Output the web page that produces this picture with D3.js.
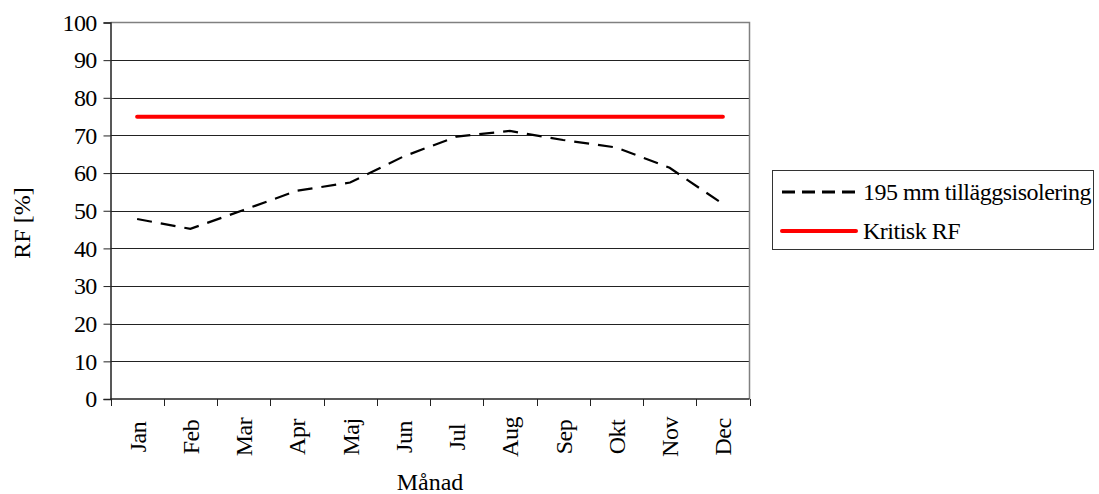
<!DOCTYPE html>
<html>
<head>
<meta charset="utf-8">
<script src="https://cdn.jsdelivr.net/npm/d3@7/dist/d3.min.js"></script>
<style>
  html, body { margin: 0; padding: 0; background: #fff; }
  svg text { font-family: "Liberation Serif", "Times New Roman", serif; fill: #000; }
</style>
</head>
<body>
<svg id="chart" width="1099" height="494"></svg>
<script>
// Monthly relative humidity (%) with 195 mm additional insulation
const months = ["Jan", "Feb", "Mar", "Apr", "Maj", "Jun", "Jul", "Aug", "Sep", "Okt", "Nov", "Dec"];
const rfValues = [47.8, 45.2, 50.2, 55.3, 57.5, 64.4, 69.7, 71.2, 68.8, 66.8, 61.4, 51.8];
const criticalValues = [75, 75, 75, 75, 75, 75, 75, 75, 75, 75, 75, 75];
const yTicks = [0, 10, 20, 30, 40, 50, 60, 70, 80, 90, 100];
const seriesNames = ["195 mm tilläggsisolering", "Kritisk RF"];

const svg = d3.select("#chart");
const plotLeft = 110.5, plotRight = 749.5, plotTop = 22.5, plotBottom = 399;
const fontSize = 24;

const x = d3.scaleBand().domain(months).range([plotLeft, plotRight]);
const y = d3.scaleLinear().domain([0, 100]).range([plotBottom, plotTop]);

// horizontal gridlines
svg.append("g").selectAll("line")
  .data(yTicks.filter(v => v > 0 && v < 100))
  .join("line")
  .attr("x1", plotLeft).attr("x2", plotRight)
  .attr("y1", d => Math.round(y(d)) + 0.5).attr("y2", d => Math.round(y(d)) + 0.5)
  .attr("stroke", "#222").attr("stroke-width", 1);

// plot frame (top and right)
svg.append("path")
  .attr("d", `M${plotLeft},${plotTop}H${plotRight}V${plotBottom}`)
  .attr("fill", "none").attr("stroke", "#808080").attr("stroke-width", 1.5);

// y axis
const yAxis = svg.append("g")
  .attr("transform", `translate(${plotLeft},0)`)
  .call(d3.axisLeft(y).tickValues(yTicks).tickSize(7).tickPadding(7));
yAxis.select(".domain").attr("stroke", "#222").attr("stroke-width", 1.5);
yAxis.selectAll(".tick line").attr("stroke", "#222");
yAxis.selectAll("text")
  .attr("font-size", fontSize)
  .attr("font-family", "Liberation Serif")
  .attr("letter-spacing", "-0.7px")
  .attr("fill", "#000");

// x axis with ticks on category boundaries
const xAxis = svg.append("g").attr("transform", `translate(0,${plotBottom})`);
xAxis.append("line")
  .attr("x1", plotLeft).attr("x2", plotRight).attr("y1", 0).attr("y2", 0)
  .attr("stroke", "#222").attr("stroke-width", 1.5);
const boundaries = months.map(m => x(m)).concat([x(months[months.length - 1]) + x.bandwidth()]);
xAxis.selectAll("line.tick")
  .data(boundaries)
  .join("line")
  .attr("class", "tick")
  .attr("x1", d => Math.round(d) + 0.5).attr("x2", d => Math.round(d) + 0.5)
  .attr("y1", 0).attr("y2", 7)
  .attr("stroke", "#222");
xAxis.selectAll("text")
  .data(months)
  .join("text")
  .attr("transform", d => `translate(${x(d) + x.bandwidth() / 2},38) rotate(-90)`)
  .attr("text-anchor", "middle")
  .attr("dy", "0.35em")
  .attr("font-size", fontSize)
  .attr("letter-spacing", "-0.5px")
  .text(d => d);

// axis titles
svg.append("text")
  .attr("transform", `translate(${(plotLeft + plotRight) / 2},490)`)
  .attr("text-anchor", "middle")
  .attr("font-size", fontSize)
  .text("Månad");
svg.append("text")
  .attr("transform", `translate(22,223) rotate(-90)`)
  .attr("text-anchor", "middle")
  .attr("dy", "0.35em")
  .attr("font-size", fontSize)
  .text("RF [%]");

const cx = d => x(d) + x.bandwidth() / 2;

// critical RF line
svg.append("path")
  .datum(criticalValues)
  .attr("fill", "none")
  .attr("stroke", "#ff0000")
  .attr("stroke-width", 4)
  .attr("stroke-linecap", "round")
  .attr("d", d3.line().x((d, i) => cx(months[i])).y(d => y(d)));

// RF series (dashed)
svg.append("path")
  .datum(rfValues)
  .attr("fill", "none")
  .attr("stroke", "#000")
  .attr("stroke-width", 2.2)
  .attr("stroke-dasharray", "15,9")
  .attr("d", d3.line().x((d, i) => cx(months[i])).y(d => y(d)));

// legend
const legend = svg.append("g");
legend.append("rect")
  .attr("x", 772.5).attr("y", 170.5).attr("width", 321).attr("height", 79)
  .attr("fill", "#fff").attr("stroke", "#333").attr("stroke-width", 1);
const legendItems = [
  { name: seriesNames[0], color: "#000", width: 2.8, dash: "13,7", y: 192 },
  { name: seriesNames[1], color: "#ff0000", width: 4, dash: null, y: 231 }
];
legendItems.forEach(item => {
  legend.append("line")
    .attr("x1", 782).attr("x2", 856)
    .attr("y1", item.y).attr("y2", item.y)
    .attr("stroke", item.color)
    .attr("stroke-width", item.width)
    .attr("stroke-linecap", item.dash ? "butt" : "round")
    .attr("stroke-dasharray", item.dash);
  legend.append("text")
    .attr("x", 863).attr("y", item.y)
    .attr("dy", "0.35em")
    .attr("font-size", fontSize)
    .attr("letter-spacing", "-0.5px")
    .text(item.name);
});
</script>
</body>
</html>
